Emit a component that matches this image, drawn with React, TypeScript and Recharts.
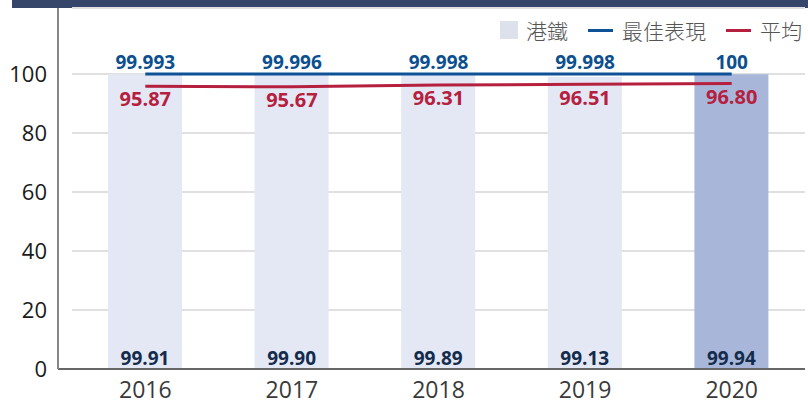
import { ComposedChart, Bar, Line, XAxis, YAxis, CartesianGrid, LabelList, Cell } from 'recharts';

const years = ['2016', '2017', '2018', '2019', '2020'];
const mtrValues = [99.91, 99.9, 99.89, 99.13, 99.94];
const bestValues = [99.993, 99.996, 99.998, 99.998, 100];
const avgValues = [95.87, 95.67, 96.31, 96.51, 96.8];
const yTicks = [0, 20, 40, 60, 80, 100];

const legendItems = [
  { name: '港鐵', color: '#dde1ec', kind: 'square' },
  { name: '最佳表現', color: '#0d5296', kind: 'line' },
  { name: '平均', color: '#b5203f', kind: 'line' },
];

const data = years.map((year, i) => ({
  year,
  mtr: mtrValues[i],
  best: bestValues[i],
  avg: avgValues[i],
}));

const fmt2 = (v: any) => Number(v).toFixed(2);
const fmtBest = (v: any) => String(v);

function ChartLegend() {
  return (
    <div
      style={{
        position: 'absolute',
        left: 500,
        top: 18,
        height: 24,
        display: 'flex',
        alignItems: 'center',
        fontFamily: '"Noto Sans CJK TC", sans-serif',
        fontWeight: 300,
        fontSize: 21,
        color: '#555',
        whiteSpace: 'nowrap',
      }}
    >
      {legendItems.map((item, i) => (
        <div key={item.name} style={{ display: 'flex', alignItems: 'center', marginLeft: i === 0 ? 0 : 20 }}>
          {item.kind === 'square' ? (
            <span style={{ width: 18, height: 18, background: item.color, display: 'inline-block' }} />
          ) : (
            <span style={{ width: 25, height: 3, background: item.color, display: 'inline-block' }} />
          )}
          <span style={{ marginLeft: item.kind === 'square' ? 8 : 9 }}>{item.name}</span>
        </div>
      ))}
    </div>
  );
}

export default function App() {
  return (
    <div style={{ position: 'absolute', left: 0, top: 0, width: 808, height: 404, background: '#fff' }}>
      <div style={{ position: 'absolute', left: 12, top: 0, width: 796, height: 8, background: '#35466a' }} />
      <ComposedChart
        width={808}
        height={404}
        data={data}
        margin={{ top: 8, right: 3, left: 0, bottom: 0 }}
        style={{ fontFamily: '"Open Sans", sans-serif' }}
      >
        <CartesianGrid vertical={false} x={72} width={733} stroke="#e0e0e0" strokeWidth={2} />
        <XAxis
          dataKey="year"
          height={35}
          padding={{ left: 14, right: 0 }}
          axisLine={{ stroke: '#666', strokeWidth: 2 }}
          tickLine={false}
          tickSize={0}
          tickMargin={13}
          tick={{ fontSize: 23, fill: '#3a3a3a' }}
        />
        <YAxis
          width={58}
          domain={[0, 122.4]}
          ticks={yTicks}
          axisLine={{ stroke: '#888', strokeWidth: 2 }}
          tickLine={false}
          tickSize={0}
          tickMargin={11}
          tick={{ fontSize: 22, fill: '#1a1a1a' }}
        />
        <Bar dataKey="mtr" barSize={74} fill="#dde1ec" isAnimationActive={false}>
          {data.map((d, i) => (
            <Cell key={d.year} fill={i === data.length - 1 ? '#a8b7d9' : '#e4e7f4'} />
          ))}
          <LabelList
            dataKey="mtr"
            position="insideBottom"
            offset={4}
            formatter={fmt2}
            fill="#132b4d"
            fontSize={19}
            fontWeight={700}
          />
        </Bar>
        <Line
          dataKey="best"
          type="linear"
          stroke="#0d5296"
          strokeWidth={3}
          dot={false}
          activeDot={false}
          isAnimationActive={false}
        >
          <LabelList
            dataKey="best"
            position="top"
            offset={5}
            formatter={fmtBest}
            fill="#0b4f8f"
            fontSize={19}
            fontWeight={700}
          />
        </Line>
        <Line
          dataKey="avg"
          type="linear"
          stroke="#b5203f"
          strokeWidth={3}
          dot={false}
          activeDot={false}
          isAnimationActive={false}
        >
          <LabelList
            dataKey="avg"
            position="bottom"
            offset={6}
            formatter={fmt2}
            fill="#b5203f"
            fontSize={20}
            fontWeight={700}
          />
        </Line>
      </ComposedChart>
      <ChartLegend />
    </div>
  );
}
